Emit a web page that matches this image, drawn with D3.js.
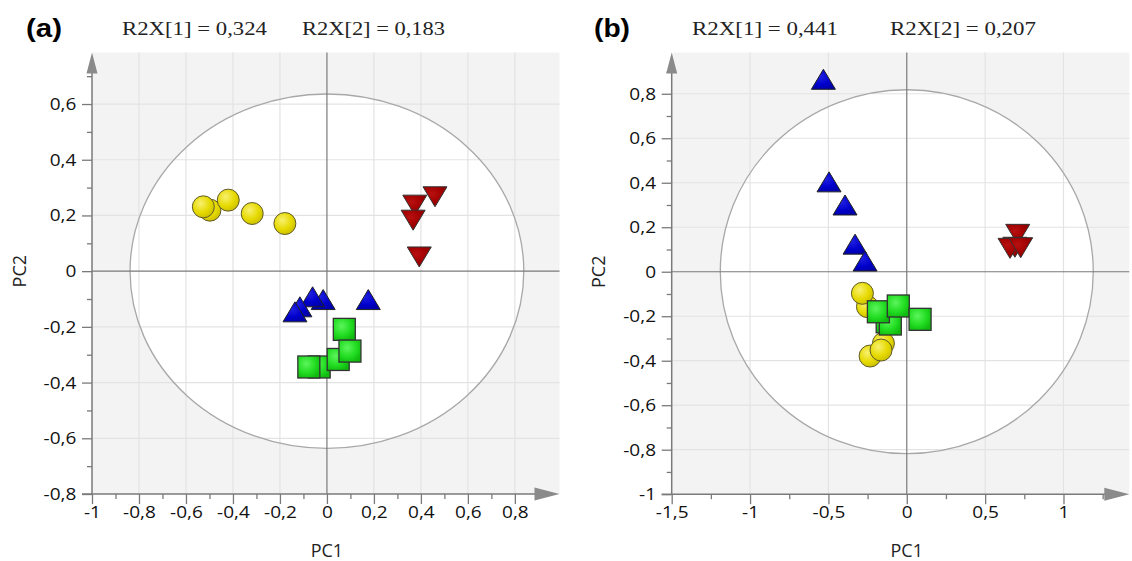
<!DOCTYPE html>
<html>
<head>
<meta charset="utf-8">
<script src="https://cdn.jsdelivr.net/npm/d3@7"></script>
<style>
  body { margin: 0; background: #fff; }
  svg { display: block; }
</style>
</head>
<body>
<div id="chart"></div>
<script>
// ---- panel (a) scores [PC1, PC2] ----
var aYellow = [[-0.498, 0.219], [-0.526, 0.231], [-0.42, 0.255], [-0.318, 0.207], [-0.179, 0.171]];
var aGreen  = [[-0.033, -0.344], [-0.077, -0.344], [0.074, -0.209], [0.048, -0.317], [0.098, -0.287]];
var aBlue   = [[-0.016, -0.102], [-0.061, -0.092], [-0.115, -0.128], [-0.136, -0.146], [0.176, -0.102]];
var aRed    = [[0.46, 0.267], [0.374, 0.237], [0.367, 0.183], [0.393, 0.051]];
var aXMajor = [-1, -0.8, -0.6, -0.4, -0.2, 0, 0.2, 0.4, 0.6, 0.8];
var aXMinor = [-0.9, -0.7, -0.5, -0.3, -0.1, 0.1, 0.3, 0.5, 0.7];
var aYMajor = [-0.8, -0.6, -0.4, -0.2, 0, 0.2, 0.4, 0.6];
var aYMinor = [-0.7, -0.5, -0.3, -0.1, 0.1, 0.3, 0.5, 0.7];
var aR2X = ["R2X[1] = 0,324", "R2X[2] = 0,183"];

// ---- panel (b) scores ----
var bYellow = [[-0.251, -0.157], [-0.283, -0.097], [-0.149, -0.322], [-0.234, -0.379], [-0.164, -0.352]];
var bGreen  = [[-0.125, -0.225], [-0.105, -0.235], [-0.181, -0.18], [-0.054, -0.154], [0.085, -0.214]];
var bBlue   = [[-0.532, 0.865], [-0.496, 0.404], [-0.394, 0.3], [-0.33, 0.124], [-0.266, 0.048]];
var bRed    = [[0.708, 0.168], [0.69, 0.11], [0.659, 0.105], [0.727, 0.108]];
var bXMajor = [-1.5, -1, -0.5, 0, 0.5, 1];
var bXMinor = [-1.25, -0.75, -0.25, 0.25, 0.75, 1.25];
var bYMajor = [-1, -0.8, -0.6, -0.4, -0.2, 0, 0.2, 0.4, 0.6, 0.8];
var bYMinor = [-0.9, -0.7, -0.5, -0.3, -0.1, 0.1, 0.3, 0.5, 0.7, 0.9];
var bR2X = ["R2X[1] = 0,441", "R2X[2] = 0,207"];

var width = 1132,
    height = 561;

var svg = d3.select("#chart")
  .append("svg")
  .attr("width", width)
  .attr("height", height);

var defs = svg.append("defs");

function radial(id, c0, c1, c2) {
  var g = defs.append("radialGradient").attr("id", id)
    .attr("cx", "38%").attr("cy", "35%").attr("r", "70%");
  g.append("stop").attr("offset", "0%").attr("stop-color", c0);
  g.append("stop").attr("offset", "60%").attr("stop-color", c1);
  g.append("stop").attr("offset", "100%").attr("stop-color", c2);
}
radial("gYellow", "#f8f070", "#e6da00", "#cbbd00");
radial("gGreen", "#5cf55c", "#22dd22", "#10bb10");
radial("gBlue", "#2020e0", "#0000cc", "#0000a8");
radial("gRed", "#b81010", "#a00000", "#820000");

function fmt(d) {
  return String(+d.toFixed(2)).replace(".", ",");
}

// triangle centred on its bounding box
function triUp(w, h) {
  return "M0," + (-h / 2) + "L" + (w / 2) + "," + (h / 2) + "L" + (-w / 2) + "," + (h / 2) + "Z";
}
function triDown(w, h) {
  return "M0," + (h / 2) + "L" + (w / 2) + "," + (-h / 2) + "L" + (-w / 2) + "," + (-h / 2) + "Z";
}

var panels = [
  {
    tag: "(a)", tagX: 26, r2x: aR2X, r2xX: [122, 302], r2xW: [145, 143],
    xDom: [-1, 0.99], xRange: [92, 559.5],
    yDom: [-0.8, 0.785], yRange: [494, 52.5],
    xMajor: aXMajor, xMinor: aXMinor, yMajor: aYMajor, yMinor: aYMinor,
    ellipse: [0.838, 0.636], pc2X: 20,
    yellow: aYellow, green: aGreen, blue: aBlue, red: aRed
  },
  {
    tag: "(b)", tagX: 594, r2x: bR2X, r2xX: [692, 890], r2xW: [146, 146],
    xDom: [-1.5, 1.42], xRange: [671.7, 1129.3],
    yDom: [-1, 0.985], yRange: [494.2, 52.6],
    xMajor: bXMajor, xMinor: bXMinor, yMajor: bYMajor, yMinor: bYMinor,
    ellipse: [1.19, 0.818], pc2X: 599,
    yellow: bYellow, green: bGreen, blue: bBlue, red: bRed
  }
];

panels.forEach(drawPanel);

function drawPanel(p) {
  var x = d3.scaleLinear().domain(p.xDom).range(p.xRange);
  var y = d3.scaleLinear().domain(p.yDom).range(p.yRange);
  var g = svg.append("g");

  var x0 = x(p.xDom[0]), x1 = x(p.xDom[1]);
  var yb = y(p.yDom[0]), yt = y(p.yDom[1]);

  // plot background
  g.append("rect")
    .attr("x", x0).attr("y", yt)
    .attr("width", x1 - x0).attr("height", yb - yt)
    .attr("fill", "#f3f3f3");

  // Hotelling ellipse fill
  g.append("ellipse")
    .attr("cx", x(0)).attr("cy", y(0))
    .attr("rx", x(p.ellipse[0]) - x(0))
    .attr("ry", y(0) - y(p.ellipse[1]))
    .attr("fill", "#fff");

  // grid
  g.selectAll(".vgrid")
    .data(p.xMajor.filter(function(d) { return d !== 0 && d !== p.xDom[0]; }))
    .enter().append("line")
    .attr("x1", x).attr("x2", x)
    .attr("y1", yt).attr("y2", yb)
    .attr("stroke", "#e3e3e3").attr("stroke-width", 1.2);
  g.selectAll(".hgrid")
    .data(p.yMajor.filter(function(d) { return d !== 0 && d !== p.yDom[0]; }))
    .enter().append("line")
    .attr("y1", y).attr("y2", y)
    .attr("x1", x0).attr("x2", x1)
    .attr("stroke", "#e3e3e3").attr("stroke-width", 1.2);

  g.append("ellipse")
    .attr("cx", x(0)).attr("cy", y(0))
    .attr("rx", x(p.ellipse[0]) - x(0))
    .attr("ry", y(0) - y(p.ellipse[1]))
    .attr("fill", "none")
    .attr("stroke", "#a8a8a8").attr("stroke-width", 1.3);

  // zero lines
  g.append("line")
    .attr("x1", x(0)).attr("x2", x(0)).attr("y1", yt).attr("y2", yb)
    .attr("stroke", "#7a7a7a").attr("stroke-width", 1.2);
  g.append("line")
    .attr("x1", x0).attr("x2", x1).attr("y1", y(0)).attr("y2", y(0))
    .attr("stroke", "#7a7a7a").attr("stroke-width", 1.2);

  // axes
  var tickFont = "'Open Sans', 'DejaVu Sans', sans-serif";
  var yAx = g.append("g").attr("transform", "translate(" + x0 + ",0)")
    .call(d3.axisLeft(y).tickValues(p.yMajor).tickSize(10).tickPadding(4).tickFormat(fmt));
  var yAxMinor = g.append("g").attr("transform", "translate(" + x0 + ",0)")
    .call(d3.axisLeft(y).tickValues(p.yMinor).tickSize(5).tickFormat(""));
  var xAx = g.append("g").attr("transform", "translate(0," + yb + ")")
    .call(d3.axisBottom(x).tickValues(p.xMajor).tickSize(10).tickPadding(2).tickFormat(fmt));
  var xAxMinor = g.append("g").attr("transform", "translate(0," + yb + ")")
    .call(d3.axisBottom(x).tickValues(p.xMinor).tickSize(5).tickFormat(""));

  [yAx, yAxMinor, xAx, xAxMinor].forEach(function(a) {
    a.select(".domain").remove();
    a.selectAll(".tick line").attr("stroke", "#7a7a7a").attr("stroke-width", 1.3);
    a.selectAll(".tick text")
      .attr("fill", "#111")
      .attr("transform", "scale(1.12,1)")
      .style("font-family", tickFont)
      .style("font-size", "17px");
  });

  // axis lines with arrows
  g.append("line")
    .attr("x1", x0).attr("x2", x0).attr("y1", yb).attr("y2", yt + 10)
    .attr("stroke", "#7a7a7a").attr("stroke-width", 1.5);
  g.append("line")
    .attr("x1", x0 - 10).attr("x2", x1 - 10).attr("y1", yb).attr("y2", yb)
    .attr("stroke", "#7a7a7a").attr("stroke-width", 1.5);
  g.append("path")
    .attr("d", "M" + x0 + "," + yt + "L" + (x0 + 5.5) + "," + (yt + 21) + "L" + (x0 - 5.5) + "," + (yt + 21) + "Z")
    .attr("fill", "#8a8a8a");
  g.append("path")
    .attr("d", "M" + x1 + "," + yb + "L" + (x1 - 25) + "," + (yb - 6.5) + "L" + (x1 - 25) + "," + (yb + 6.5) + "Z")
    .attr("fill", "#8a8a8a");

  // axis titles
  g.append("text")
    .attr("x", x(0)).attr("y", 557)
    .attr("text-anchor", "middle")
    .style("font-family", tickFont).style("font-size", "18px")
    .attr("fill", "#222")
    .text("PC1");
  g.append("text")
    .attr("transform", "translate(" + p.pc2X + "," + y(0) + ") rotate(-90)")
    .attr("text-anchor", "middle").attr("dy", "0.35em")
    .style("font-family", tickFont).style("font-size", "18px")
    .attr("fill", "#222")
    .text("PC2");

  // panel tag and explained variance
  g.append("text")
    .attr("x", p.tagX).attr("y", 37)
    .attr("textLength", 36)
    .attr("lengthAdjust", "spacingAndGlyphs")
    .style("font-family", "'Liberation Sans', Arial, sans-serif")
    .style("font-size", "25px").style("font-weight", "bold")
    .text(p.tag);
  g.selectAll(".r2x")
    .data(p.r2x)
    .enter().append("text")
    .attr("x", function(d, i) { return p.r2xX[i]; })
    .attr("y", 35)
    .attr("textLength", function(d, i) { return p.r2xW[i]; })
    .attr("lengthAdjust", "spacingAndGlyphs")
    .style("font-family", "'Liberation Serif', 'Times New Roman', serif")
    .style("font-size", "19px")
    .attr("fill", "#222")
    .text(function(d) { return d; });

  // score points
  var pts = g.append("g");
  pts.selectAll(".yellow").data(p.yellow).enter().append("circle")
    .attr("cx", function(d) { return x(d[0]); })
    .attr("cy", function(d) { return y(d[1]); })
    .attr("r", 11)
    .attr("fill", "url(#gYellow)")
    .attr("stroke", "#5e5a2a").attr("stroke-width", 1);
  pts.selectAll(".green").data(p.green).enter().append("rect")
    .attr("x", function(d) { return x(d[0]) - 11; })
    .attr("y", function(d) { return y(d[1]) - 11; })
    .attr("width", 22).attr("height", 22)
    .attr("fill", "url(#gGreen)")
    .attr("stroke", "#333").attr("stroke-width", 1.3);
  pts.selectAll(".blue").data(p.blue).enter().append("path")
    .attr("transform", function(d) { return "translate(" + x(d[0]) + "," + y(d[1]) + ")"; })
    .attr("d", triUp(24, 20))
    .attr("fill", "url(#gBlue)")
    .attr("stroke", "#222").attr("stroke-width", 1);
  pts.selectAll(".red").data(p.red).enter().append("path")
    .attr("transform", function(d) { return "translate(" + x(d[0]) + "," + y(d[1]) + ")"; })
    .attr("d", triDown(24, 20))
    .attr("fill", "url(#gRed)")
    .attr("stroke", "#333").attr("stroke-width", 1);
}
</script>
</body>
</html>
